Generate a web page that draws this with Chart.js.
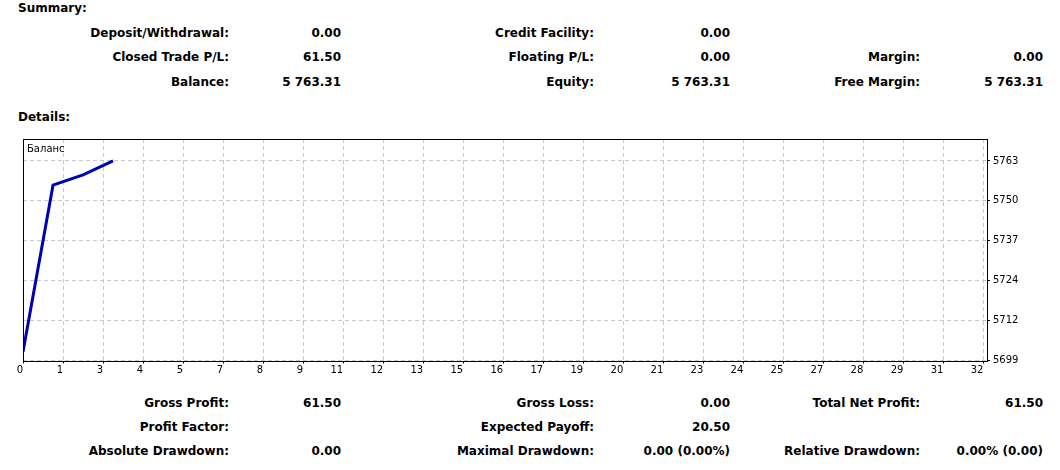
<!DOCTYPE html>
<html>
<head>
<meta charset="utf-8">
<script src="https://cdn.jsdelivr.net/npm/chart.js@4/dist/chart.umd.min.js"></script>
<style>
  body { margin: 0; background: #fff; width: 1060px; height: 470px; overflow: hidden; position: relative;
         font-family: "DejaVu Sans", sans-serif; font-weight: bold; font-size: 12px; color: #000; }
  .t { position: absolute; white-space: nowrap; line-height: 14px; }
  .r { text-align: right; }
  #wrap { position: absolute; left: 0; top: 130px; width: 1040px; height: 250px; }
</style>
</head>
<body>
<div id="texts"></div>
<div id="wrap"><canvas id="balanceChart"></canvas></div>
<script>
// balance curve, one point per closed trade
const tradeNumbers = [0, 1, 2, 3];
const balanceValues = [5701.81, 5755.50, 5758.80, 5763.31];
const seriesLabel = "Баланс";

// axis labels as printed by the terminal
const xTickLabels = ["0", "1", "3", "4", "5", "7", "8", "9", "11", "12", "13", "15", "16", "17",
  "19", "20", "21", "23", "24", "25", "27", "28", "29", "31", "32"];
const yTickLabels = ["5699", "5712", "5724", "5737", "5750", "5763"];
const yMin = 5699.0, yTop = 5763.31, xMax = 32.12;

// report rows: [label, value] for three column pairs
const summaryRows = [
  [["Deposit/Withdrawal:", "0.00"], ["Credit Facility:", "0.00"], ["", ""]],
  [["Closed Trade P/L:", "61.50"], ["Floating P/L:", "0.00"], ["Margin:", "0.00"]],
  [["Balance:", "5 763.31"], ["Equity:", "5 763.31"], ["Free Margin:", "5 763.31"]]
];
const detailRows = [
  [["Gross Profit:", "61.50"], ["Gross Loss:", "0.00"], ["Total Net Profit:", "61.50"]],
  [["Profit Factor:", ""], ["Expected Payoff:", "20.50"], ["", ""]],
  [["Absolute Drawdown:", "0.00"], ["Maximal Drawdown:", "0.00 (0.00%)"], ["Relative Drawdown:", "0.00% (0.00)"]]
];

const colEnds = [[229, 341], [594, 730], [920, 1043]];
const box = document.getElementById("texts");
function addText(txt, right, y, left) {
  const d = document.createElement("div");
  d.className = "t" + (left ? "" : " r");
  d.textContent = txt;
  if (left) d.style.left = right + "px";
  else d.style.right = (1060 - right) + "px";
  d.style.top = (y - 7) + "px";
  box.appendChild(d);
}
addText("Summary:", 18, 8, true);
addText("Details:", 18, 117, true);
function addRows(rows, ys) {
  rows.forEach((row, i) => {
    row.forEach((pair, c) => {
      if (pair[0]) addText(pair[0], colEnds[c][0], ys[i]);
      if (pair[1]) addText(pair[1], colEnds[c][1], ys[i]);
    });
  });
}
addRows(summaryRows, [33, 57, 82]);
addRows(detailRows, [403, 427, 451]);

const yStep = (yTop - yMin) / (yTickLabels.length - 1);
const xStep = 32 / (xTickLabels.length - 1);

const frame = {
  id: "frame",
  afterDraw(chart) {
    const { ctx, chartArea: a } = chart;
    ctx.save();
    ctx.strokeStyle = "#000";
    ctx.lineWidth = 1;
    ctx.strokeRect(Math.round(a.left) + 0.5, Math.round(a.top) + 0.5,
      Math.round(a.right - a.left), Math.round(a.bottom - a.top));
    ctx.fillStyle = "#000";
    ctx.font = "10px 'DejaVu Sans'";
    ctx.textBaseline = "top";
    ctx.fillText(chart.data.datasets[0].label, a.left + 4, a.top + 5);
    ctx.restore();
  }
};

new Chart(document.getElementById("balanceChart"), {
  type: "line",
  data: {
    datasets: [{
      label: seriesLabel,
      data: tradeNumbers.map((x, i) => ({ x: x, y: balanceValues[i] })),
      borderColor: "#0000b4",
      borderWidth: 3,
      pointRadius: 0,
      tension: 0,
      fill: false
    }]
  },
  options: {
    responsive: true,
    maintainAspectRatio: false,
    animation: false,
    layout: { padding: { left: 23, top: 7, right: 0, bottom: 0 } },
    plugins: { legend: { display: false }, tooltip: { enabled: false } },
    scales: {
      x: {
        type: "linear",
        min: 0,
        max: xMax,
        afterBuildTicks: s => { s.ticks = xTickLabels.map((l, i) => ({ value: i * xStep })); },
        afterFit: s => { s.height = 19.5; },
        grid: {
          color: "#c8c8c8",
          tickColor: "#000",
          tickLength: 3,
          drawTicks: true
        },
        border: { display: false, dash: [4, 3] },
        ticks: {
          autoSkip: false,
          maxRotation: 0,
          align: "end",
          padding: 1,
          color: "#000",
          font: { family: "DejaVu Sans", size: 10 },
          callback: (v, i) => xTickLabels[i]
        }
      },
      y: {
        position: "right",
        min: yMin,
        max: yTop + yStep * 0.55,
        afterBuildTicks: s => { s.ticks = yTickLabels.map((l, i) => ({ value: yMin + i * yStep })); },
        afterFit: s => { s.width = 53; },
        grid: {
          color: "#c8c8c8",
          tickColor: "#000",
          tickLength: 3
        },
        border: { display: false, dash: [4, 3] },
        ticks: {
          padding: 3,
          color: "#000",
          font: { family: "DejaVu Sans", size: 10 },
          callback: (v, i) => yTickLabels[i]
        }
      }
    }
  },
  plugins: [frame]
});
</script>
</body>
</html>
